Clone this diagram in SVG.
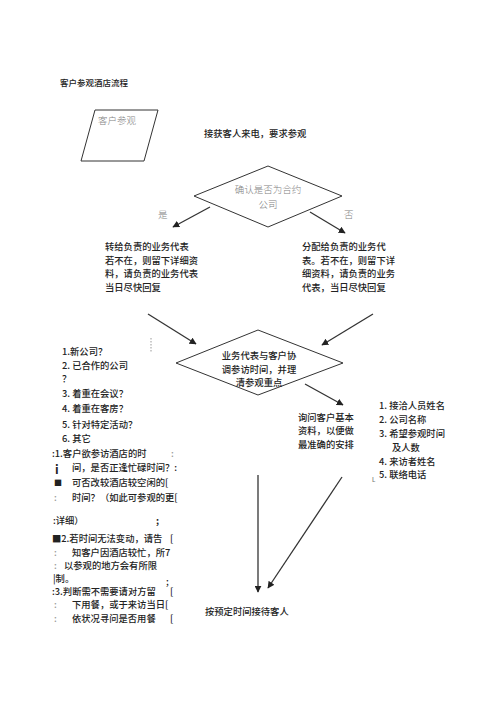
<svg xmlns="http://www.w3.org/2000/svg" width="500" height="708" viewBox="0 0 500 708">
<defs>
<marker id="ah" viewBox="0 0 10 10" refX="9" refY="5" markerWidth="7" markerHeight="7" markerUnits="userSpaceOnUse" orient="auto">
<path d="M0,0 L10,5 L0,10 z" fill="#222"/>
</marker>
</defs>
<style>
.t{font-family:"Noto Sans CJK SC","Noto Sans",sans-serif;font-size:9.3px;fill:#222;font-weight:500;dominant-baseline:central}
.g{font-family:"Noto Sans CJK SC","Noto Sans",serif;font-size:9.5px;fill:#808080;font-weight:300;dominant-baseline:central}
.m{text-anchor:middle}
.shape{fill:#fff;stroke:#333;stroke-width:1}
.c{stroke:#333;stroke-width:1.3;fill:none;marker-end:url(#ah)}
</style>
<rect width="500" height="708" fill="#fff"/>
<text class="t" x="60" y="82" style="font-size:8.5px">客户参观酒店流程</text>

<g id="start">
<polygon class="shape" points="95,110 158,110 144,161 81,161"/>
<text class="g" x="98" y="120">客户参观</text>
</g>
<g id="call">
<text class="t" x="204" y="133">接获客人来电，要求参观</text>
</g>
<g id="decision1">
<polygon class="shape" points="268,166 342,196 268,227 194,196"/>
<text class="g m" x="268" y="189">确认是否为合约</text>
<text class="g m" x="268" y="204">公司</text>
</g>
<g id="yes-label"><text class="g" x="158" y="214">是</text></g>
<g id="no-label"><text class="g" x="344" y="214">否</text></g>

<g id="transfer">
<text class="t" x="105" y="246">转给负责的业务代表</text>
<text class="t" x="105" y="259.5">若不在，则留下详细资</text>
<text class="t" x="105" y="273">料，请负责的业务代表</text>
<text class="t" x="105" y="286.5">当日尽快回复</text>
</g>
<g id="assign">
<text class="t" x="302" y="246">分配给负责的业务代</text>
<text class="t" x="302" y="259.5">表。若不在，则留下详</text>
<text class="t" x="302" y="273">细资料，请负责的业务</text>
<text class="t" x="302" y="286.5">代表，当日尽快回复</text>
</g>

<g id="decision2">
<polygon class="shape" points="258,330 343,363 258,395 176,363"/>
<text class="t m" x="259" y="355">业务代表与客户协</text>
<text class="t m" x="259" y="368.5">调参访时间，并理</text>
<text class="t m" x="259" y="382">清参观重点</text>
</g>

<g id="leftlist">
<line x1="151" y1="338" x2="151" y2="352" stroke="#999" stroke-width="1" stroke-dasharray="1.5,1.5"/>
<text class="t" x="62" y="351">1.新公司？</text>
<text class="t" x="62" y="364.5">2. 已合作的公司</text>
<text class="t" x="62" y="378">？</text>
<text class="t" x="62" y="393">3. 着重在会议？</text>
<text class="t" x="62" y="408">4. 着重在客房？</text>
<text class="t" x="62" y="423.5">5. 针对特定活动？</text>
<text class="t" x="62" y="438">6. 其它</text>
</g>

<g id="notes">
<text class="t" x="52" y="453">:1.客户欲参访酒店的时</text>
<text class="t" x="171" y="453" style="fill:#999">:</text>
<text class="t" x="55" y="468" style="font-size:12px;font-weight:bold">i</text>
<text class="t" x="72" y="467">间，是否正逢忙碌时间？:</text>
<text class="t" x="54" y="482" style="font-size:8px">■</text>
<text class="t" x="72" y="482">可否改较酒店较空闲的[</text>
<text class="t" x="54" y="497" style="fill:#999">:</text>
<text class="t" x="72" y="497">时间？（如此可参观的更[</text>
<text class="t" x="53" y="520">:详细）</text>
<text class="t" x="156" y="520" style="font-weight:bold">;</text>
<text class="t" x="52" y="538">■2.若时间无法变动，请告</text>
<text class="t" x="170" y="538">[</text>
<text class="t" x="54" y="552" style="fill:#999">:</text>
<text class="t" x="72" y="552">知客户因酒店较忙，所7</text>
<text class="t" x="54" y="565" style="fill:#999">:</text>
<text class="t" x="64" y="565">以参观的地方会有所限</text>
<text class="t" x="53" y="578">|制。</text>
<text class="t" x="166" y="581">;</text>
<text class="t" x="52" y="591">:3.判断需不需要请对方留</text>
<text class="t" x="170" y="591">[</text>
<text class="t" x="54" y="603.5" style="fill:#999">:</text>
<text class="t" x="72" y="603.5">下用餐，或于来访当日[</text>
<text class="t" x="54" y="618" style="fill:#999">:</text>
<text class="t" x="72" y="618">依状况寻问是否用餐</text>
<text class="t" x="170" y="618">[</text>
</g>

<g id="inquire">
<text class="t" x="298" y="417">询问客户基本</text>
<text class="t" x="298" y="430">资料，以便做</text>
<text class="t" x="298" y="443.5">最准确的安排</text>
</g>

<g id="rightlist">
<text class="t" x="379" y="405">1. 接洽人员姓名</text>
<text class="t" x="379" y="419">2. 公司名称</text>
<text class="t" x="379" y="433">3. 希望参观时间</text>
<text class="t" x="392" y="447">及人数</text>
<text class="t" x="379" y="460.5">4. 来访者姓名</text>
<text class="t" x="379" y="474">5. 联络电话</text>
<text class="t" x="372" y="479" style="font-size:6px;fill:#777">L</text>
</g>

<g id="reception">
<text class="t" x="205" y="611">按预定时间接待客人</text>
</g>

<g id="connectors">
<line class="c" x1="210" y1="207" x2="173" y2="227"/>
<line class="c" x1="310" y1="212" x2="345" y2="233"/>
<line class="c" x1="148" y1="314" x2="196" y2="344"/>
<line class="c" x1="373" y1="314" x2="322" y2="345"/>
<line class="c" x1="305" y1="384" x2="343" y2="405"/>
<line class="c" x1="258" y1="475" x2="258" y2="592"/>
<line class="c" x1="342" y1="477" x2="268" y2="588"/>
</g>
</svg>
